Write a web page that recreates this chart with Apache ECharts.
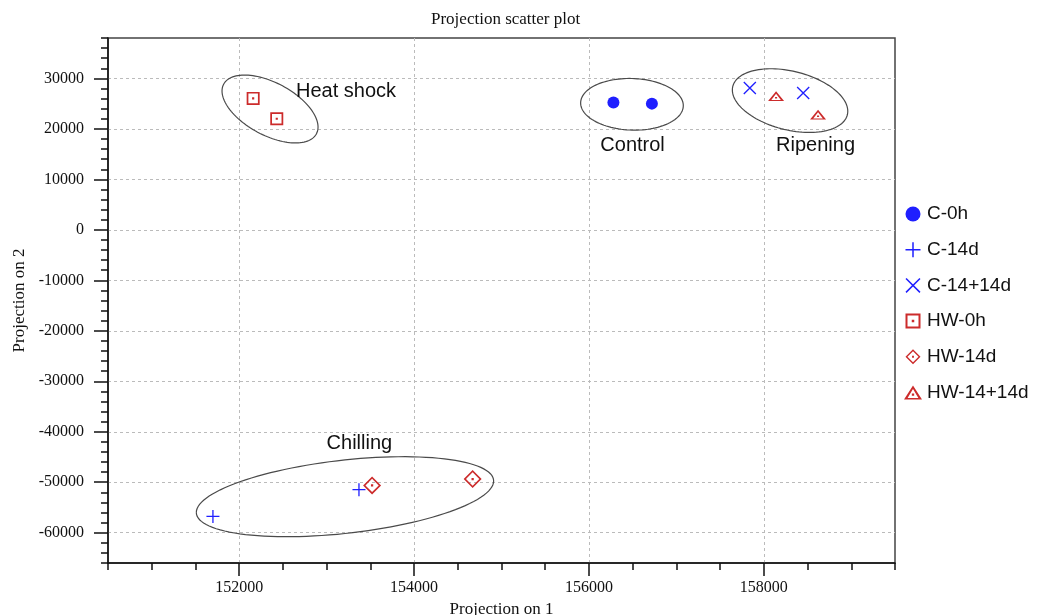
<!DOCTYPE html>
<html><head><meta charset="utf-8">
<script src="https://cdn.jsdelivr.net/npm/echarts@6/dist/echarts.min.js"></script>
<style>html,body{margin:0;padding:0;background:#fff}#c{width:1037px;height:615px}</style>
</head><body><div id="c"></div>
<script>
// ---- data ----
const seriesNames = ['C-0h', 'C-14d', 'C-14+14d', 'HW-0h', 'HW-14d', 'HW-14+14d'];
const c0h      = [[156280, 25240], [156720, 25000]];
const c14d     = [[151700, -56770], [153370, -51480]];
const c14p14d  = [[157840, 28100], [158450, 27100]];
const hw0h     = [[152160, 26040], [152430, 22010]];
const hw14d    = [[153520, -50630], [154670, -49360]];
const hw14p14d = [[158140, 26470], [158620, 22810]];

const xTickLabels = [152000, 154000, 156000, 158000];
const yTickLabels = [-60000, -50000, -40000, -30000, -20000, -10000, 0, 10000, 20000, 30000];

const groupLabels = ['Heat shock', 'Control', 'Ripening', 'Chilling'];
const groupLabelAnchors = [[152650, 27400], [156130, 16670], [158140, 16670], [153000, -42370]];

// confidence ellipses: centre and two conjugate semi-diameters (data units)
const ellipseCenters = [[152353, 23935], [156492, 24866], [158300, 25600], [153210, -52868]];
const ellipseU = [[-549, 3566], [-587, 258], [-660, 2100], [-1700, -3110]];
const ellipseV = [[0, -5705], [0, -5111], [0, -5950], [0, -7290]];

// ---- symbols ----
const BLUE = '#1f1fff', RED = '#cc2b2b';
const symPlus = 'path://M6.3,0H7.7V14H6.3Z M0,6.3H14V7.7H0Z';
const symX = 'path://M0,1L1,0L14,13L13,14Z M1,14L0,13L13,0L14,1Z';
const symSq = 'path://M0,0H12V12H0Z M1.6,1.6V10.4H10.4V1.6Z M5,5H7V7H5Z';
const symDia = 'path://M8,0L16,8L8,16L0,8Z M8,2.1L2.1,8L8,13.9L13.9,8Z M7,7H9V9H7Z';
const symTri = 'path://M7,0L14,11L0,11Z M7,2.8L2.8,9.7L11.2,9.7Z M6.1,6.3H7.9V8.1H6.1Z';

const serif = 'Liberation Serif';
const sans = 'Liberation Sans';
const plain = function (v) { return String(v); };

function sc(name, data, symbol, size, color) {
  return { name, type: 'scatter', data, symbol, symbolSize: size, symbolKeepAspect: true,
    itemStyle: { color, opacity: 1 }, xAxisIndex: 0, yAxisIndex: 0, z: 5,
    emphasis: { disabled: true } };
}

const chart = echarts.init(document.getElementById('c'), null, { renderer: 'canvas' });
const baseAxisLine = { show: true, onZero: false, lineStyle: { color: '#111', width: 1.5 } };
const option = {
  animation: false,
  backgroundColor: '#fff',
  title: { text: 'Projection scatter plot', left: 426, top: 6,
    textStyle: { fontFamily: serif, fontSize: 17, fontWeight: 'normal', color: '#111' } },
  grid: { left: 108, top: 38, width: 787, height: 525, show: true, borderColor: '#444', borderWidth: 1.5,
    backgroundColor: 'transparent', containLabel: false, outerBoundsMode: 'none' },
  legend: {
    orient: 'vertical', left: 899, top: 199, itemWidth: 18, itemHeight: 15, itemGap: 15.7,
    data: seriesNames,
    textStyle: { fontFamily: sans, fontSize: 19, color: '#111', lineHeight: 20 }
  },
  xAxis: [
    { type: 'value', min: 150500, max: 159500, interval: 500, position: 'bottom',
      axisLine: baseAxisLine,
      axisTick: { show: true, length: 7, lineStyle: { color: '#111', width: 1.5 } },
      axisLabel: { show: false }, splitLine: { show: false } },
    { type: 'value', min: 150500, max: 159500, position: 'bottom',
      axisLine: { show: false, onZero: false },
      axisTick: { show: true, length: 13, customValues: xTickLabels, lineStyle: { color: '#111', width: 1.5 } },
      axisLabel: { show: true, customValues: xTickLabels, formatter: plain, margin: 17, fontFamily: serif, fontSize: 16, color: '#111' },
      splitLine: { show: true, lineStyle: { color: '#bbb', type: [3, 3], width: 1 } },
      name: 'Projection on 1', nameLocation: 'middle', nameGap: 32,
      nameTextStyle: { fontFamily: serif, fontSize: 17, color: '#111' } }
  ],
  yAxis: [
    { type: 'value', min: -66000, max: 38000, interval: 2000, position: 'left',
      axisLine: baseAxisLine,
      axisTick: { show: true, length: 7, lineStyle: { color: '#111', width: 1.5 } },
      axisLabel: { show: false }, splitLine: { show: false } },
    { type: 'value', min: -66000, max: 38000, position: 'left',
      axisLine: { show: false, onZero: false },
      axisTick: { show: true, length: 14, customValues: yTickLabels, lineStyle: { color: '#111', width: 1.5 } },
      axisLabel: { show: true, customValues: yTickLabels, formatter: plain, margin: 24, fontFamily: serif, fontSize: 16, color: '#111' },
      splitLine: { show: true, lineStyle: { color: '#bbb', type: [3, 3], width: 1 } },
      name: 'Projection on 2', nameLocation: 'middle', nameGap: 80, nameRotate: 90,
      nameTextStyle: { fontFamily: serif, fontSize: 17, color: '#111' } }
  ],
  series: [
    {
      type: 'custom', name: 'ellipses', xAxisIndex: 0, yAxisIndex: 0, silent: true, clip: false, z: 3,
      data: ellipseCenters,
      renderItem: function (params, api) {
        const i = params.dataIndex;
        const cx = api.value(0), cy = api.value(1);
        const u = ellipseU[i], v = ellipseV[i];
        const pts = [];
        for (let k = 0; k <= 120; k++) {
          const t = k / 120 * Math.PI * 2;
          pts.push(api.coord([cx + u[0] * Math.cos(t) + v[0] * Math.sin(t),
                              cy + u[1] * Math.cos(t) + v[1] * Math.sin(t)]));
        }
        return { type: 'polyline', shape: { points: pts }, style: { stroke: '#4a4a4a', fill: null, lineWidth: 1.2 } };
      }
    },
    {
      type: 'custom', name: 'labels', xAxisIndex: 0, yAxisIndex: 0, silent: true, clip: false, z: 4,
      data: groupLabelAnchors,
      renderItem: function (params, api) {
        const p = api.coord([api.value(0), api.value(1)]);
        return { type: 'text', style: { text: groupLabels[params.dataIndex], x: p[0], y: p[1],
          fill: '#111', font: '20px "Liberation Sans"', align: 'left', verticalAlign: 'middle' } };
      }
    },
    sc('C-0h', c0h, 'circle', 12, BLUE),
    sc('C-14d', c14d, symPlus, 13, BLUE),
    sc('C-14+14d', c14p14d, symX, 13, BLUE),
    sc('HW-0h', hw0h, symSq, 13, RED),
    sc('HW-14d', hw14d, symDia, 18, RED),
    sc('HW-14+14d', hw14p14d, symTri, [16, 12.5], RED)
  ]
};
chart.setOption(option);
</script>
</body></html>
